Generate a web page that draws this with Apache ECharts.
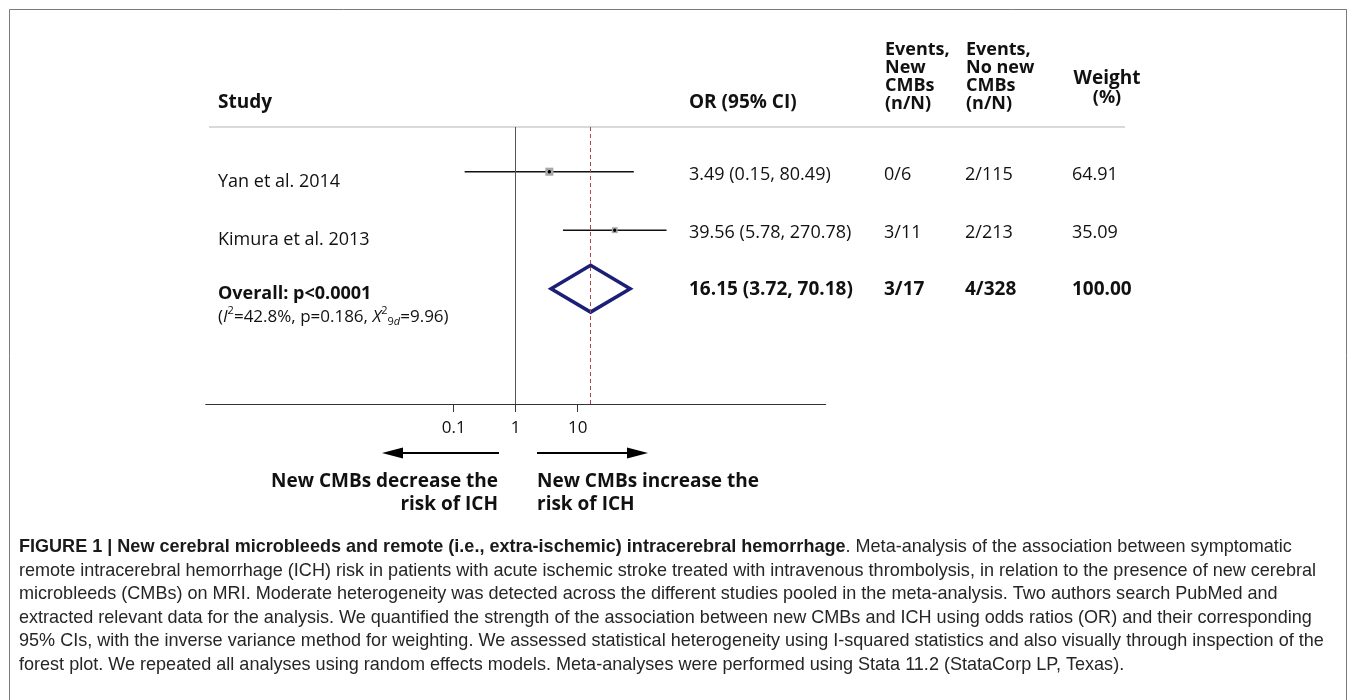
<!DOCTYPE html>
<html><head><meta charset="utf-8">
<script src="https://cdn.jsdelivr.net/npm/echarts@6/dist/echarts.min.js"></script>
<style>html,body{margin:0;padding:0;background:#fff}#c{width:1355px;height:700px}</style>
</head><body><div id="c"></div>
<script>
// ---------------- data ----------------
const studies = ['Yan et al. 2014', 'Kimura et al. 2013'];
const oddsRatios = [3.49, 39.56];
const ciLower = [0.15, 5.78];
const ciUpper = [80.49, 270.78];
const eventsNewCMBs = ['0/6', '3/11'];
const eventsNoNewCMBs = ['2/115', '2/213'];
const weights = [64.91, 35.09];
const overallOR = 16.15;
const overallLower = 3.72;
const overallUpper = 70.18;
const overallEventsNew = '3/17';
const overallEventsNoNew = '4/328';
const overallWeight = 100.00;
const overallP = 'p<0.0001';
const hetI2 = '42.8%';
const hetP = '0.186';
const hetChi2 = '9.96';
const hetChiSub = '9';
const hetChiSubItalic = 'd';
const xTicks = [0.1, 1, 10];

// ---------------- layout ----------------
const REG = 'Open Sans', BOLD = 'Open Sans';
const COL_LABEL = 218, COL_OR = 689, COL_EV1 = 884, COL_EV2 = 965, COL_W = 1072;
const CAPTION_TARGET = 1297;

function measure(text, font) {
  const c = document.createElement('canvas').getContext('2d');
  c.font = font; return c.measureText(text).width;
}
const fmt = v => v.toFixed(2);

const rows = studies.map((s, i) => [ciLower[i], ciUpper[i], oddsRatios[i], i + 1, weights[i]]);
rows.push([overallLower, overallUpper, overallOR, studies.length + 1, overallWeight]);

function txt(text, x, y, opts) {
  opts = opts || {};
  return {
    type: 'text', x: x, y: y,
    style: {
      text: text, fill: opts.fill || '#111',
      fontFamily: opts.family || REG, fontSize: opts.size || 18,
      fontWeight: opts.weight || 'normal',
      align: opts.align || 'left', verticalAlign: 'middle',
      rich: opts.rich
    }
  };
}

const chart = echarts.init(document.getElementById('c'), null, {renderer: 'canvas'});

const capFont = '19px "Liberation Sans"';
const captionLines = [
  '{b|FIGURE 1 | New cerebral microbleeds and remote (i.e., extra-ischemic) intracerebral hemorrhage}. Meta-analysis of the association between symptomatic',
  'remote intracerebral hemorrhage (ICH) risk in patients with acute ischemic stroke treated with intravenous thrombolysis, in relation to the presence of new cerebral',
  'microbleeds (CMBs) on MRI. Moderate heterogeneity was detected across the different studies pooled in the meta-analysis. Two authors search PubMed and',
  'extracted relevant data for the analysis. We quantified the strength of the association between new CMBs and ICH using odds ratios (OR) and their corresponding',
  '95% CIs, with the inverse variance method for weighting. We assessed statistical heterogeneity using I-squared statistics and also visually through inspection of the',
  'forest plot. We repeated all analyses using random effects models. Meta-analyses were performed using Stata 11.2 (StataCorp LP, Texas).'
];
const capScale = CAPTION_TARGET / measure(captionLines[1], capFont);
const capY = [547, 570.5, 594, 617.5, 641, 664.5];

const graphics = [
  {type: 'rect', shape: {x: 9.5, y: 9.5, width: 1337, height: 720}, style: {fill: 'none', stroke: '#7a7a7a', lineWidth: 1}},
  {type: 'line', shape: {x1: 209, y1: 127, x2: 1125, y2: 127}, style: {stroke: '#d9d9d9', lineWidth: 2}},
  txt('Study', COL_LABEL, 103, {weight: 'bold', size: 19, family: BOLD}),
  txt('OR (95% CI)', COL_OR, 103, {weight: 'bold', size: 19, family: BOLD}),
  txt('Weight', 1107, 79, {weight: 'bold', size: 19, family: BOLD, align: 'center'}),
  txt('(%)', 1107, 98, {weight: 'bold', size: 18, family: BOLD, align: 'center'}),
  // arrows
  {type: 'line', shape: {x1: 499, y1: 453, x2: 400, y2: 453}, style: {stroke: '#000', lineWidth: 2}},
  {type: 'polygon', shape: {points: [[382, 453], [403, 447.5], [403, 458.5]]}, style: {fill: '#000'}},
  {type: 'line', shape: {x1: 537, y1: 453, x2: 630, y2: 453}, style: {stroke: '#000', lineWidth: 2}},
  {type: 'polygon', shape: {points: [[648, 453], [627, 447.5], [627, 458.5]]}, style: {fill: '#000'}},
  txt('New CMBs decrease the', 498, 482, {weight: 'bold', size: 19, family: BOLD, align: 'right'}),
  txt('risk of ICH', 498, 505, {weight: 'bold', size: 19, family: BOLD, align: 'right'}),
  txt('New CMBs increase the', 537, 482, {weight: 'bold', size: 19, family: BOLD}),
  txt('risk of ICH', 537, 505, {weight: 'bold', size: 19, family: BOLD})
];
[['Events,', 'New', 'CMBs', '(n/N)'], ['Events,', 'No new', 'CMBs', '(n/N)']].forEach((lines, c) => {
  lines.forEach((l, k) => graphics.push(txt(l, c === 0 ? COL_EV1 + 1 : COL_EV2 + 1, 50 + k * 17.8, {weight: 'bold', size: 18, family: BOLD})));
});
captionLines.forEach((l, k) => {
  const t = txt(l, 19, capY[k], {family: 'Liberation Sans', size: 19, fill: '#262626',
    rich: {b: {fontFamily: 'Liberation Sans', fontSize: 19, fontWeight: 'bold', fill: '#1a1a1a'}}});
  t.scaleX = capScale;
  graphics.push(t);
});

const option = {
  animation: false,
  backgroundColor: '#fff',
  grid: {left: 205.7, top: 127, width: 620, height: 277},
  xAxis: {
    type: 'log', logBase: 10, min: 1e-5, max: 1e5,
    axisLine: {show: true, lineStyle: {color: '#333', width: 1}},
    axisTick: {show: true, customValues: xTicks, length: 8, lineStyle: {color: '#333'}},
    axisLabel: {show: true, customValues: xTicks, margin: 16, fontFamily: REG, fontSize: 17, color: '#111',
      formatter: v => String(Number(Number(v).toPrecision(6)))},
    splitLine: {show: false}, minorTick: {show: false}
  },
  yAxis: {type: 'value', inverse: true, min: 0.236, max: 4.971, show: false},
  graphic: {elements: graphics},
  series: [{
    type: 'custom',
    clip: false,
    silent: true,
    data: rows,
    markLine: {
      silent: true, symbol: ['none', 'none'], label: {show: false},
      data: [
        {xAxis: 1, lineStyle: {color: '#555', width: 1, type: 'solid'}},
        {xAxis: overallOR, lineStyle: {color: '#b5444a', width: 1, type: [4, 3]}}
      ]
    },
    renderItem: function (params, api) {
      const i = params.dataIndex;
      const lo = api.value(0), hi = api.value(1), or = api.value(2), row = api.value(3), w = api.value(4);
      const pLo = api.coord([lo, row]), pHi = api.coord([hi, row]), pC = api.coord([or, row]);
      const y = pC[1];
      const ch = [];
      const orText = fmt(or) + ' (' + fmt(lo) + ', ' + fmt(hi) + ')';
      if (i < studies.length) {
        ch.push({type: 'line', shape: {x1: pLo[0], y1: y, x2: pHi[0], y2: y}, style: {stroke: '#111', lineWidth: 1.5}});
        const s = Math.sqrt(w);
        ch.push({type: 'rect', shape: {x: pC[0] - s / 2, y: y - s / 2, width: s, height: s}, style: {fill: '#a8a8a8'}});
        ch.push({type: 'circle', shape: {cx: pC[0], cy: y, r: 1.7}, style: {fill: '#000'}});
        ch.push(txt(studies[i], COL_LABEL, y + 10, {size: 18}));
        ch.push(txt(orText, COL_OR, y + 3, {size: 18}));
        ch.push(txt(eventsNewCMBs[i], COL_EV1, y + 3, {size: 18}));
        ch.push(txt(eventsNoNewCMBs[i], COL_EV2, y + 3, {size: 18}));
        ch.push(txt(fmt(weights[i]), COL_W, y + 3, {size: 18}));
      } else {
        const top = api.coord([or, row - 0.4])[1], bot = api.coord([or, row + 0.4])[1];
        ch.push({type: 'polygon', shape: {points: [[pLo[0], y], [pC[0], top], [pHi[0], y], [pC[0], bot]]},
          style: {fill: 'none', stroke: '#1b1f78', lineWidth: 3.5, lineJoin: 'miter'}});
        ch.push(txt('Overall: ' + overallP, COL_LABEL, y + 5, {weight: 'bold', size: 18, family: BOLD}));
        ch.push(txt('({i|I}{sup|2}=' + hetI2 + ', p=' + hetP + ', {i|X}{sup|2}{sub|' + hetChiSub + '}{subi|' + hetChiSubItalic + '}=' + hetChi2 + ')',
          COL_LABEL, y + 28, {size: 17, rich: {
            i: {fontFamily: REG, fontSize: 17, fontStyle: 'italic', lineHeight: 22, fill: '#111'},
            sup: {fontFamily: REG, fontSize: 11, lineHeight: 11, verticalAlign: 'top', fill: '#111'},
            sub: {fontFamily: REG, fontSize: 11, lineHeight: 11, verticalAlign: 'bottom', fill: '#111'},
            subi: {fontFamily: REG, fontSize: 11, lineHeight: 11, fontStyle: 'italic', verticalAlign: 'bottom', fill: '#111'}
          }}));
        ch.push(txt(orText, COL_OR, y + 1, {weight: 'bold', size: 19, family: BOLD}));
        ch.push(txt(overallEventsNew, COL_EV1, y + 1, {weight: 'bold', size: 19, family: BOLD}));
        ch.push(txt(overallEventsNoNew, COL_EV2, y + 1, {weight: 'bold', size: 19, family: BOLD}));
        ch.push(txt(fmt(overallWeight), COL_W, y + 1, {weight: 'bold', size: 19, family: BOLD}));
      }
      return {type: 'group', children: ch};
    }
  }]
};
chart.setOption(option);
</script></body></html>
